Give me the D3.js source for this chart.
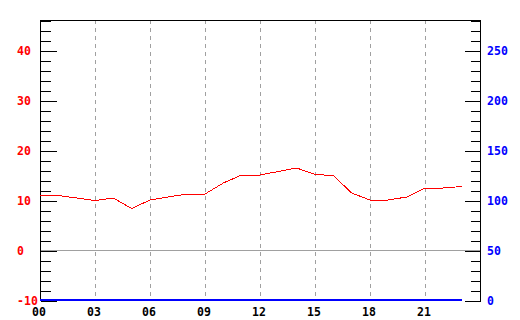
<!DOCTYPE html>
<html>
<head>
<meta charset="utf-8">
<script src="https://cdn.jsdelivr.net/npm/d3@7"></script>
<style>
  body { margin: 0; background: #fff; }
  svg text { font-family: "DejaVu Sans Mono", monospace; font-weight: bold; font-size: 11.5px; letter-spacing: 0.1px; }
</style>
</head>
<body>
<div id="chart"></div>
<script>
// data: hourly values
var hours = [0, 1, 2, 3, 4, 5, 6, 7, 8, 9, 10, 11, 12, 13, 14, 15, 16, 17, 18, 19, 20, 21, 22, 23];
var temperature = [11, 11, 10.5, 10, 10.5, 8.4, 10.1, 10.7, 11.3, 11.3, 13.5, 15.1, 15.1, 15.8, 16.5, 15.2, 15.0, 11.5, 10.1, 10.1, 10.7, 12.5, 12.5, 12.8];
var precipitation = [0, 0, 0, 0, 0, 0, 0, 0, 0, 0, 0, 0, 0, 0, 0, 0, 0, 0, 0, 0, 0, 0, 0, 0];

var leftTicks = [-10, 0, 10, 20, 30, 40];
var rightTicks = [0, 50, 100, 150, 200, 250];
var hourTicks = [0, 3, 6, 9, 12, 15, 18, 21];
var hourLabels = ["00", "03", "06", "09", "12", "15", "18", "21"];

var svgWidth = 520;
var svgHeight = 320;
var margin = { top: 20, right: 40, bottom: 20, left: 40 };

var svg = d3.select("#chart")
  .append("svg")
  .attr("width", svgWidth)
  .attr("height", svgHeight);

// scales
var x = d3.scaleLinear().domain([0, 24]).range([margin.left, svgWidth - margin.right]);
var yLeft = d3.scaleLinear().domain([-10, 46]).range([svgHeight - margin.bottom, margin.top]);
var yRight = d3.scaleLinear().domain([0, 280]).range([svgHeight - margin.bottom, margin.top]);

var plotLeft = x(0), plotRight = x(24), plotTop = yLeft(46), plotBottom = yLeft(-10);

// zero line
svg.append("line")
  .attr("x1", plotLeft).attr("x2", plotRight)
  .attr("y1", yLeft(0) + 0.5).attr("y2", yLeft(0) + 0.5)
  .attr("stroke", "#a0a0a0")
  .attr("shape-rendering", "crispEdges");

// dashed vertical grid
svg.selectAll(".grid")
  .data(hourTicks.filter(d => d > 0))
  .enter()
  .append("line")
  .attr("class", "grid")
  .attr("x1", d => Math.round(x(d)) + 0.5)
  .attr("x2", d => Math.round(x(d)) + 0.5)
  .attr("y1", plotTop)
  .attr("y2", plotBottom)
  .attr("stroke", "#a0a0a0")
  .attr("stroke-dasharray", "4,4")
  .attr("shape-rendering", "crispEdges");

// top border
svg.append("line")
  .attr("x1", plotLeft).attr("x2", plotRight + 1)
  .attr("y1", plotTop + 0.5).attr("y2", plotTop + 0.5)
  .attr("stroke", "#000")
  .attr("shape-rendering", "crispEdges");

// ticks pointing inwards on both sides
var minorLeft = d3.range(-10, 47, 2).filter(d => leftTicks.indexOf(d) < 0);
var minorRight = d3.range(0, 281, 10).filter(d => rightTicks.indexOf(d) < 0);

function styleAxis(g) {
  g.select(".domain").remove();
  g.selectAll("line").attr("stroke", "#000").attr("shape-rendering", "crispEdges");
  g.selectAll("text").remove();
}

svg.append("g")
  .attr("transform", `translate(${plotLeft + 0.5}, 0.5)`)
  .call(d3.axisRight(yLeft).tickValues(minorLeft).tickSize(10).tickFormat(""))
  .call(styleAxis);
svg.append("g")
  .attr("transform", `translate(${plotLeft + 0.5}, 0.5)`)
  .call(d3.axisRight(yLeft).tickValues(leftTicks).tickSize(16).tickFormat(""))
  .call(styleAxis);

svg.append("g")
  .attr("transform", `translate(${plotRight + 0.5}, 0.5)`)
  .call(d3.axisLeft(yRight).tickValues(minorRight).tickSize(10).tickFormat(""))
  .call(styleAxis);
svg.append("g")
  .attr("transform", `translate(${plotRight + 0.5}, 0.5)`)
  .call(d3.axisLeft(yRight).tickValues(rightTicks).tickSize(16).tickFormat(""))
  .call(styleAxis);

// axis lines
svg.append("line")
  .attr("x1", plotLeft + 0.5).attr("x2", plotLeft + 0.5)
  .attr("y1", plotTop).attr("y2", plotBottom + 1)
  .attr("stroke", "#000").attr("shape-rendering", "crispEdges");
svg.append("line")
  .attr("x1", plotRight + 0.5).attr("x2", plotRight + 0.5)
  .attr("y1", plotTop).attr("y2", plotBottom + 1)
  .attr("stroke", "#000").attr("shape-rendering", "crispEdges");

// labels
svg.selectAll(".lLabel")
  .data(leftTicks)
  .enter()
  .append("text")
  .attr("x", 17)
  .attr("y", d => yLeft(d) + 4.5)
  .attr("fill", "#ff0000")
  .text(d => d);

svg.selectAll(".rLabel")
  .data(rightTicks)
  .enter()
  .append("text")
  .attr("x", 487)
  .attr("y", d => yRight(d) + 4.5)
  .attr("fill", "#0000ff")
  .text(d => d);

svg.selectAll(".xLabel")
  .data(hourTicks)
  .enter()
  .append("text")
  .attr("x", d => x(d) - 1)
  .attr("y", 316)
  .attr("text-anchor", "middle")
  .attr("fill", "#000")
  .text((d, i) => hourLabels[i]);

// precipitation line (right axis)
var precipLine = d3.line()
  .x((d, i) => x(hours[i]))
  .y(d => yRight(d));

svg.append("path")
  .datum(precipitation)
  .attr("d", precipLine)
  .attr("fill", "none")
  .attr("stroke", "#0000ff")
  .attr("stroke-width", 2)
  .attr("shape-rendering", "crispEdges");

// temperature line (left axis)
var tempLine = d3.line()
  .x((d, i) => x(hours[i]))
  .y(d => yLeft(d) + 0.5);

svg.append("path")
  .datum(temperature)
  .attr("d", tempLine)
  .attr("fill", "none")
  .attr("stroke", "#ff0000")
  .attr("stroke-width", 1)
  .attr("shape-rendering", "crispEdges");
</script>
</body>
</html>
